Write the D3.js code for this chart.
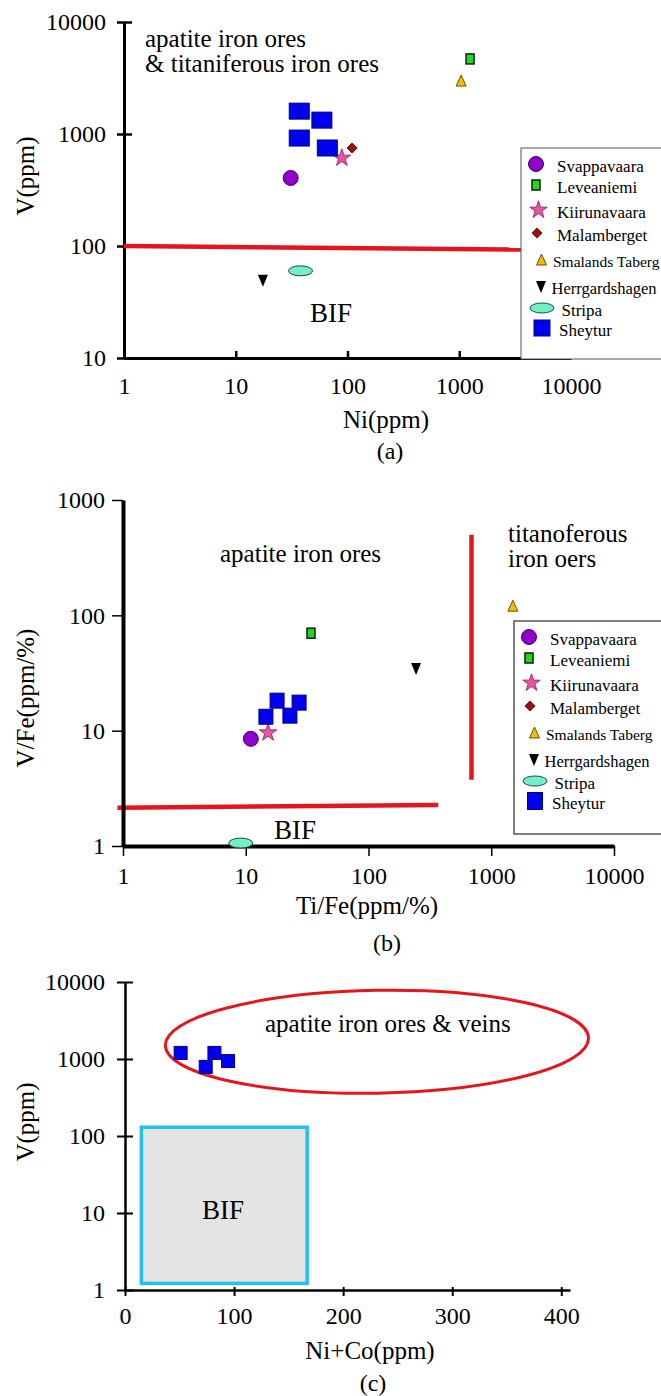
<!DOCTYPE html>
<html>
<head>
<meta charset="utf-8">
<script src="https://cdn.jsdelivr.net/npm/d3@7"></script>
<style>
	body { margin: 0; background: #fff; }
	svg text { font-family: "Liberation Serif", "Times New Roman", serif; fill: #000; }
</style>
</head>
<body>
<svg id="fig" width="661" height="1396"></svg>
<script>
/*
	Three discrimination diagrams (a) Ni-V, (b) Ti/Fe-V/Fe, (c) Ni+Co-V
	with the ore localities plotted as symbols.
*/

// ---------- data ----------
var legendSites = ['Svappavaara','Leveaniemi','Kiirunavaara','Malamberget',
                   'Smalands Taberg','Herrgardshagen','Stripa','Sheytur'];

// (a) Ni(ppm) vs V(ppm)
var siteA = ['Svappavaara','Leveaniemi','Kiirunavaara','Malamberget','Smalands Taberg',
             'Herrgardshagen','Stripa','Sheytur','Sheytur','Sheytur','Sheytur'];
var niA   = [31, 1250, 89, 110, 1040, 17.5, 38, 37, 59, 37, 66];
var vA    = [405, 4680, 610, 750, 2970, 50, 60, 1600, 1330, 920, 750];
var boundaryA = [[1, 100], [3600, 93]];

// (b) Ti/Fe(ppm/%) vs V/Fe(ppm/%)
var siteB = ['Svappavaara','Leveaniemi','Kiirunavaara','Smalands Taberg','Herrgardshagen',
             'Stripa','Sheytur','Sheytur','Sheytur','Sheytur'];
var tiFeB = [11, 34, 15.2, 1500, 244, 9.1, 14.6, 18, 22.9, 27.2];
var vFeB  = [8.5, 70, 9.6, 120, 35, 1.06, 13.2, 18.2, 13.5, 17.5];
var boundaryB  = [[0.9, 2.15], [370, 2.27]];
var boundaryB2 = [[690, 500], [690, 3.75]];

// (c) Ni+Co(ppm) vs V(ppm)
var niCoC = [51, 74, 82, 94.5];
var vC    = [1200, 790, 1200, 940];
var bifBoxC   = {x0: 15, x1: 167, y0: 1.22, y1: 130};
var oreFieldC = {x0: 37, x1: 425, y0: 360, y1: 7800};

var logTicks4 = [1, 10, 100, 1000, 10000];
var logTicksA = [10, 100, 1000, 10000];
var logTicksB = [1, 10, 100, 1000];
var linTicksC = [0, 100, 200, 300, 400];

// ---------- helpers ----------
var svg = d3.select('#fig');
var fmt = d3.format('d');
var red = '#e5151b';

function drawMarker(g, site, sq) {
	if (site === 'Svappavaara') {
		g.append('circle').attr('r', 7.5).attr('fill', '#8f00cc').attr('stroke', '#3d0060').attr('stroke-width', 1);
	} else if (site === 'Leveaniemi') {
		g.append('rect').attr('x', -4).attr('y', -5).attr('width', 8).attr('height', 10)
		 .attr('fill', '#1fd81f').attr('stroke', '#1a2a1a').attr('stroke-width', 1.6);
	} else if (site === 'Kiirunavaara') {
		g.append('path').attr('d', d3.symbol(d3.symbolStar, 95)())
		 .attr('fill', '#e6559f').attr('stroke', '#a03070').attr('stroke-width', 1);
	} else if (site === 'Malamberget') {
		g.append('path').attr('d', d3.symbol(d3.symbolSquare, 52)()).attr('transform', 'rotate(45)')
		 .attr('fill', '#9b1111').attr('stroke', '#5c0000').attr('stroke-width', 0.8);
	} else if (site === 'Smalands Taberg') {
		g.append('path').attr('d', 'M0,-6L5,5L-5,5Z')
		 .attr('fill', '#f5b90a').attr('stroke', '#6b5200').attr('stroke-width', 1).attr('stroke-linejoin', 'round');
	} else if (site === 'Herrgardshagen') {
		g.append('path').attr('d', 'M-5,-5L5,-5L0,7Z').attr('fill', '#000');
	} else if (site === 'Stripa') {
		g.append('ellipse').attr('rx', 12).attr('ry', 5)
		 .attr('fill', '#72eec8').attr('stroke', '#204a40').attr('stroke-width', 1);
	} else if (site === 'Sheytur') {
		g.append('rect').attr('x', -sq[0] / 2).attr('y', -sq[1] / 2).attr('width', sq[0]).attr('height', sq[1])
		 .attr('fill', '#0000ee').attr('stroke', '#000088').attr('stroke-width', 1);
	}
}

function plotPoints(sites, xs, ys, x, y, sq) {
	sites.forEach(function(s, i) {
		var g = svg.append('g').attr('transform', 'translate(' + x(xs[i]) + ',' + y(ys[i]) + ')');
		drawMarker(g, s, sq);
	});
}

// legend rows: offsets inside the box
var legRowY  = [16, 37, 62, 85, 112, 138, 160, 180];
var legMarkX = [15, 15, 17.5, 16, 20.5, 20, 21, 21];
var legTextX = [36, 36, 36, 36, 32, 30.5, 40.5, 38];
var legSize  = [17, 17, 17, 17, 15.5, 16.5, 17, 17];

function drawLegend(bx, by, bh, sw, sq) {
	svg.append('rect').attr('x', bx).attr('y', by).attr('width', 200).attr('height', bh)
	   .attr('fill', '#fff').attr('stroke', '#555').attr('stroke-width', sw);
	legendSites.forEach(function(s, i) {
		var g = svg.append('g').attr('transform', 'translate(' + (bx + legMarkX[i]) + ',' + (by + legRowY[i]) + ')');
		drawMarker(g, s, sq);
		svg.append('text').attr('x', bx + legTextX[i]).attr('y', by + legRowY[i] + 2)
		   .attr('dy', '0.35em').style('font-size', legSize[i] + 'px').text(s);
	});
}

function label(x, y, txt, size, rot) {
	var t = svg.append('text').attr('text-anchor', 'middle').attr('dy', '0.35em')
	           .style('font-size', size + 'px').text(txt);
	if (rot) t.attr('transform', 'translate(' + x + ',' + y + ') rotate(-90)');
	else t.attr('x', x).attr('y', y);
	return t;
}

function styleAxis(g, w, tw) {
	g.attr('font-family', null).attr('font-size', null);
	g.select('.domain').attr('stroke-width', w).attr('stroke', '#000');
	g.selectAll('.tick line').attr('stroke-width', tw).attr('stroke', '#000');
	g.selectAll('.tick text').style('font-size', '24px');
}

// ================= (a) =================
var xA = d3.scaleLog().domain([1, 10000]).range([124, 571]);
var yA = d3.scaleLog().domain([10, 10000]).range([358, 22]);

var gyA = svg.append('g').attr('transform', 'translate(' + xA(1) + ',0)')
	.call(d3.axisLeft(yA).tickValues(logTicksA).tickFormat(fmt).tickSizeOuter(0).tickSizeInner(7).tickPadding(11));
styleAxis(gyA, 3, 2.5);
gyA.selectAll('.tick line').attr('x1', 8);

var gxA = svg.append('g').attr('transform', 'translate(0,' + yA(10) + ')')
	.call(d3.axisBottom(xA).tickValues(logTicks4).tickFormat(fmt).tickSizeOuter(0).tickSizeInner(0).tickPadding(19));
styleAxis(gxA, 3, 2.5);
gxA.selectAll('.tick line').attr('y1', 1).attr('y2', -7);

svg.append('path').datum(boundaryA)
   .attr('d', d3.line().x(d => xA(d[0])).y(d => yA(d[1])))
   .attr('stroke', red).attr('stroke-width', 4.5).attr('fill', 'none');

svg.append('text').attr('x', 145).attr('y', 47).style('font-size', '25px').text('apatite iron ores');
svg.append('text').attr('x', 145).attr('y', 72).style('font-size', '25px').text('& titaniferous iron ores');
label(331, 313, 'BIF', 27);

plotPoints(siteA, niA, vA, xA, yA, [20, 16]);
drawLegend(521, 148, 211, 1, [16, 16]);

label(25, 176, 'V(ppm)', 25, true);
label(386, 419, 'Ni(ppm)', 25);
label(390, 451, '(a)', 24);

// ================= (b) =================
var xB = d3.scaleLog().domain([1, 10000]).range([123, 614]);
var yB = d3.scaleLog().domain([1, 1000]).range([846, 500]);

svg.append('path').datum(boundaryB)
   .attr('d', d3.line().x(d => xB(d[0])).y(d => yB(d[1])))
   .attr('stroke', red).attr('stroke-width', 4.5).attr('fill', 'none');
svg.append('path').datum(boundaryB2)
   .attr('d', d3.line().x(d => xB(d[0])).y(d => yB(d[1])))
   .attr('stroke', red).attr('stroke-width', 4.5).attr('fill', 'none');

var gyB = svg.append('g').attr('transform', 'translate(' + xB(1) + ',0)')
	.call(d3.axisLeft(yB).tickValues(logTicksB).tickFormat(fmt).tickSizeOuter(0).tickSizeInner(11).tickPadding(7));
styleAxis(gyB, 4, 1.5);

var gxB = svg.append('g').attr('transform', 'translate(0,' + yB(1) + ')')
	.call(d3.axisBottom(xB).tickValues(logTicks4).tickFormat(fmt).tickSizeOuter(0).tickSizeInner(10).tickPadding(11));
styleAxis(gxB, 4, 1.5);

svg.append('text').attr('x', 220).attr('y', 562).style('font-size', '25px').text('apatite iron ores');
svg.append('text').attr('x', 508).attr('y', 542).style('font-size', '25px').text('titanoferous');
svg.append('text').attr('x', 508).attr('y', 567).style('font-size', '25px').text('iron oers');
label(295, 830, 'BIF', 27);

plotPoints(siteB, tiFeB, vFeB, xB, yB, [14, 15]);
drawLegend(514, 621, 213, 1.5, [15, 17]);

label(25, 698, 'V/Fe(ppm/%)', 25, true);
label(367, 905, 'Ti/Fe(ppm/%)', 25);
label(387, 943, '(b)', 24);

// ================= (c) =================
var xC = d3.scaleLinear().domain([0, 408]).range([125, 570]);
var yC = d3.scaleLog().domain([1, 10000]).range([1290, 982]);

var gyC = svg.append('g').attr('transform', 'translate(' + xC(0) + ',0)')
	.call(d3.axisLeft(yC).tickValues(logTicks4).tickFormat(fmt).tickSizeOuter(0).tickSizeInner(8).tickPadding(12));
styleAxis(gyC, 2.5, 2);
gyC.selectAll('.tick line').attr('x1', 8);

var gxC = svg.append('g').attr('transform', 'translate(0,' + yC(1) + ')')
	.call(d3.axisBottom(xC).tickValues(linTicksC).tickFormat(fmt).tickSizeOuter(0).tickSizeInner(0).tickPadding(17));
styleAxis(gxC, 2.5, 2);
gxC.selectAll('.tick line').attr('y1', -3).attr('y2', 6);

svg.append('rect')
   .attr('x', xC(bifBoxC.x0)).attr('y', yC(bifBoxC.y1))
   .attr('width', xC(bifBoxC.x1) - xC(bifBoxC.x0)).attr('height', yC(bifBoxC.y0) - yC(bifBoxC.y1))
   .attr('fill', '#e4e4e4').attr('stroke', '#22c0f0').attr('stroke-width', 3.5);
label(223, 1210, 'BIF', 27);

var ecx = (xC(oreFieldC.x0) + xC(oreFieldC.x1)) / 2,
	ecy = (yC(oreFieldC.y0) + yC(oreFieldC.y1)) / 2;
svg.append('ellipse')
   .attr('cx', ecx).attr('cy', ecy)
   .attr('rx', (xC(oreFieldC.x1) - xC(oreFieldC.x0)) / 2)
   .attr('ry', (yC(oreFieldC.y0) - yC(oreFieldC.y1)) / 2)
   .attr('transform', 'rotate(-1,' + ecx + ',' + ecy + ')')
   .attr('fill', 'none').attr('stroke', red).attr('stroke-width', 3);
svg.append('text').attr('x', 265).attr('y', 1032).style('font-size', '25px').text('apatite iron ores & veins');

plotPoints(niCoC.map(() => 'Sheytur'), niCoC, vC, xC, yC, [13, 13]);

label(25, 1122, 'V(ppm)', 25, true);
label(370, 1350, 'Ni+Co(ppm)', 25);
label(373, 1383, '(c)', 24);
</script>
</body>
</html>
